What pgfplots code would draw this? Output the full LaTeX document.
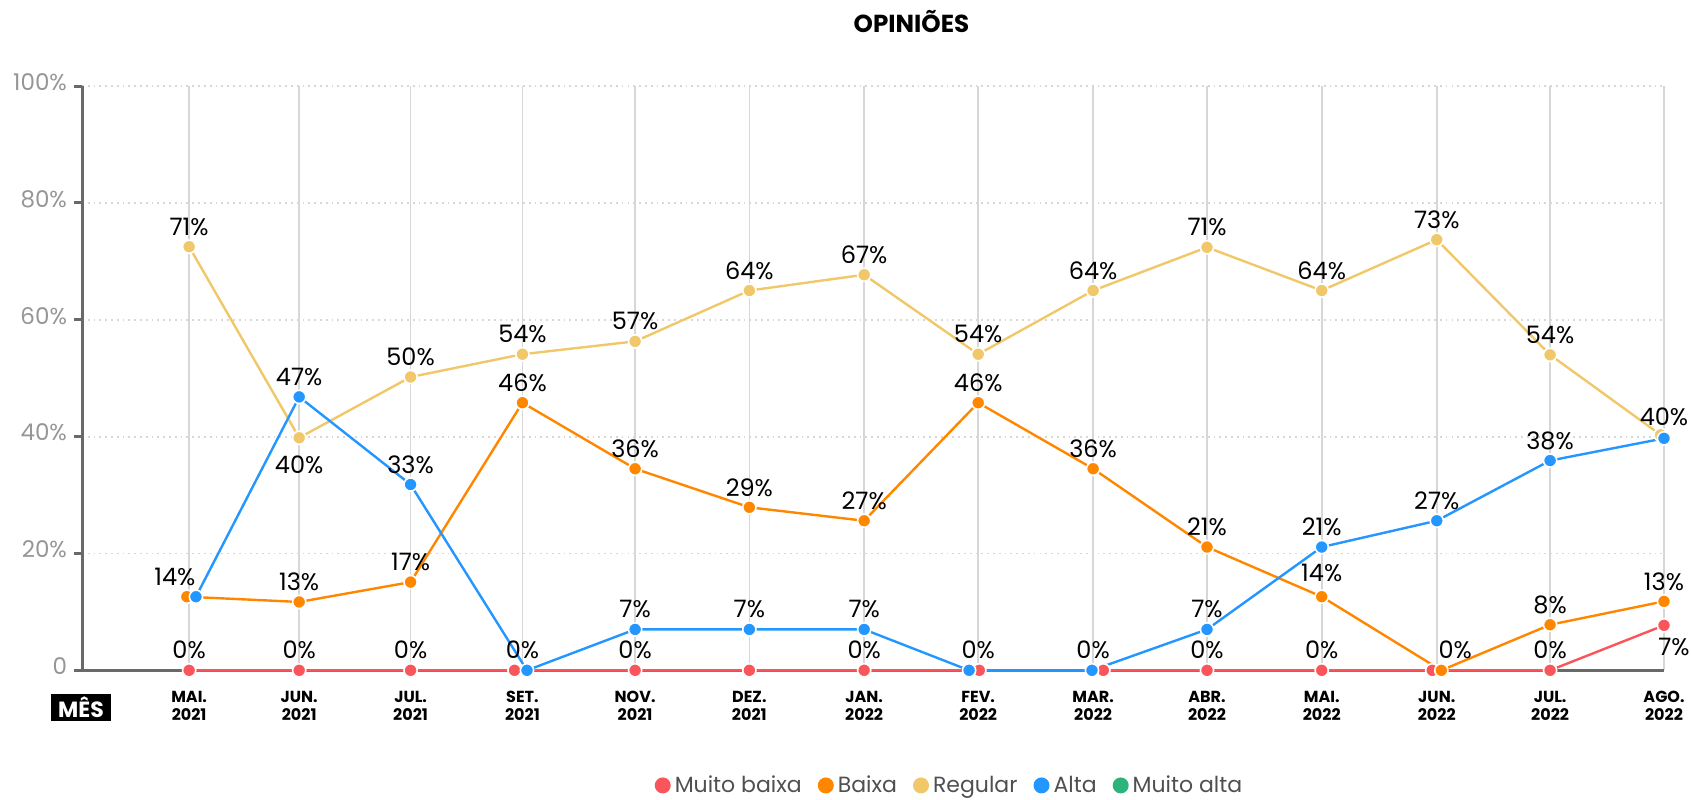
\documentclass[border=0pt]{standalone}
\usepackage{fontspec}
\setmainfont{Poppins}
\usepackage{pgfplots}
\pgfplotsset{compat=1.18}
\usepackage{pgfplotstable}

\definecolor{cred}{RGB}{250,85,90}
\definecolor{corange}{RGB}{255,135,0}
\definecolor{cyellow}{RGB}{240,200,105}
\definecolor{cblue}{RGB}{35,150,255}
\definecolor{cgreen}{RGB}{45,180,125}
\definecolor{axisgray}{RGB}{105,105,105}
\definecolor{gridgray}{RGB}{215,215,215}
\definecolor{ticklab}{RGB}{150,150,150}
\definecolor{legtext}{RGB}{80,80,80}

\newcommand\labfont{\fontsize{12}{14}\selectfont}

% category positions: 0, 0.970, 1.952, 2.938, 3.931, 4.938, 5.950, 6.955, 7.968, 8.972, 9.983, 10.997, 11.996, 13
% lines
\pgfplotstableread{
x y
0 0
0.970 0
1.952 0
2.868 0
3.931 0
4.938 0
5.950 0
6.965 0
8.058 0
8.972 0
9.983 0
10.957 0
11.996 0
13 7.7
}\redline
\pgfplotstableread{
x y
-0.02 12.6
0.970 11.7
1.952 15.1
2.938 45.8
3.931 34.5
4.938 27.9
5.950 25.6
6.955 45.8
7.968 34.5
8.972 21.1
9.983 12.6
11.037 0
11.996 7.8
13 11.8
}\orangeline
\pgfplotstableread{
x y
0 72.5
0.970 39.8
1.952 50.2
2.938 54.1
3.931 56.3
4.938 65.0
5.950 67.7
6.955 54.1
7.968 65.0
8.972 72.4
9.983 65.0
10.997 73.7
11.996 54.0
12.97 40.3
}\yellowline
\pgfplotstableread{
x y
0.06 12.6
0.970 46.8
1.952 31.8
2.978 0
3.931 7.0
4.938 7.0
5.950 7.0
6.875 0
7.958 0
8.972 7.0
9.983 21.1
10.997 25.6
11.996 35.9
13 39.7
}\blueline

% labels: x y lab dx dy
\pgfplotstableread{
x y lab dx dy
0 0 0 0 10
0.970 0 0 0 10
1.952 0 0 0 10
2.938 0 0 0 10
3.931 0 0 0 10
5.950 0 0 0 10
6.955 0 0 0 10
7.968 0 0 0 10
8.972 0 0 0 10
9.983 0 0 0 10
11.996 0 0 0 10
13 7.7 7 5 -11
}\redlab
\pgfplotstableread{
x y lab dx dy
-0.02 12.6 14 -6 10
0.970 11.7 13 0 10
1.952 15.1 17 0 10
2.938 45.8 46 0 10
3.931 34.5 36 0 10
4.938 27.9 29 0 10
5.950 25.6 27 0 10
6.955 45.8 46 0 10
7.968 34.5 36 0 10
8.972 21.1 21 0 10
9.983 12.6 14 0 12
11.037 0 0 7 10
11.996 7.8 8 0 10
13 11.8 13 0 10
}\orangelab
\pgfplotstableread{
x y lab dx dy
0 72.5 71 0 10
0.970 39.8 40 0 -13.5
1.952 50.2 50 0 10
2.938 54.1 54 0 10
3.931 56.3 57 0 10
4.938 65.0 64 0 10
5.950 67.7 67 0 10
6.955 54.1 54 0 10
7.968 65.0 64 0 10
8.972 72.4 71 0 10
9.983 65.0 64 0 10
10.997 73.7 73 0 10
11.996 54.0 54 0 10
}\yellowlab
\pgfplotstableread{
x y lab dx dy
0.970 46.8 47 0 10
1.952 31.8 33 0 10
3.931 7.0 7 0 10
4.938 7.0 7 0 10
5.950 7.0 7 0 10
8.972 7.0 7 0 10
9.983 21.1 21 0 10
10.997 25.6 27 0 10
11.996 35.9 38 0 10
13 39.7 40 0 11
}\bluelab

\pgfplotsset{
  serie/.style={line width=1.2pt, color=#1, mark=*, mark size=3.3pt,
    mark options={draw=white, line width=0.8pt, fill=#1}},
  labs/.style={forget plot, draw=none, mark=none,
    nodes near coords={\pgfplotspointmeta\%},
    point meta=explicit symbolic,
    visualization depends on={\thisrow{dx} \as \ldx},
    visualization depends on={\thisrow{dy} \as \ldy},
    nodes near coords style={anchor=center, xshift=\ldx pt, yshift=\ldy pt,
      font=\labfont, text=black, inner sep=0pt}},
}

\begin{document}
\begin{tikzpicture}
\useasboundingbox (-41pt,-64.5pt) rectangle (804.1pt,335pt);
\begin{axis}[
  at={(0pt,0pt)}, anchor=south west,
  scale only axis, width=790.6pt, height=292pt,
  xmin=-0.944, xmax=13, ymin=0, ymax=100,
  clip=false,
  axis lines=left,
  axis line style={-, draw=axisgray, line width=1.5pt},
  xtick={0,0.970,1.952,2.938,3.931,4.938,5.950,6.955,7.968,8.972,9.983,10.997,11.996,13},
  xticklabels={{MAI.\\2021},{JUN.\\2021},{JUL.\\2021},{SET.\\2021},{NOV.\\2021},{DEZ.\\2021},{JAN.\\2022},{FEV.\\2022},{MAR.\\2022},{ABR.\\2022},{MAI.\\2022},{JUN.\\2022},{JUL.\\2022},{AGO.\\2022}},
  xticklabel style={align=center, font=\fontsize{8}{9}\selectfont\bfseries, text=black, anchor=north, yshift=-3pt},
  x tick style={draw=none},
  ytick={0,20,40,60,80,100},
  yticklabels={0,20\%,40\%,60\%,80\%,100\%},
  yticklabel style={font=\fontsize{11.5}{13}\selectfont, text=ticklab, yshift=2pt},
  y tick style={draw=axisgray, line width=1.5pt},
  tick align=outside,
  major tick length=4pt,
  xmajorgrids, ymajorgrids,
  x grid style={gridgray, line width=0.8pt},
  y grid style={gridgray, line width=0.9pt, dotted},
  legend columns=-1,
  legend style={at={(0.549,-0.197)}, anchor=center, draw=none, fill=none,
    font=\fontsize{11}{13}\selectfont, text=legtext,
    /tikz/every even column/.append style={column sep=6pt}},
  legend image code/.code={\fill[#1, draw=none] (0pt,0pt) circle (4pt);},
]
\addplot[serie=cred] table[x=x,y=y] {\redline};
\addlegendentry{Muito baixa}
\addplot[serie=corange] table[x=x,y=y] {\orangeline};
\addlegendentry{Baixa}
\addplot[serie=cyellow] table[x=x,y=y] {\yellowline};
\addlegendentry{Regular}
\addplot[serie=cblue] table[x=x,y=y] {\blueline};
\addlegendentry{Alta}
\addlegendimage{color=cgreen, fill=cgreen}
\addlegendentry{Muito alta}

\addplot[labs] table[x=x,y=y,meta=lab] {\redlab};
\addplot[labs] table[x=x,y=y,meta=lab] {\orangelab};
\addplot[labs] table[x=x,y=y,meta=lab] {\yellowlab};
\addplot[labs] table[x=x,y=y,meta=lab] {\bluelab};

\draw[axisgray, line width=1.5pt] (axis cs:13,0) ++(0,-4pt) -- ++(0,8pt);
\end{axis}
\node[font=\fontsize{12.3}{14}\selectfont\bfseries, text=black] at (414.5pt,324pt) {OPINIÕES};
\node[fill=black, text=white, font=\fontsize{11}{12}\selectfont\bfseries, minimum width=30pt, minimum height=13.5pt, inner sep=0pt] at (-0.5pt,-18.5pt) {MÊS};
\end{tikzpicture}
\end{document}
